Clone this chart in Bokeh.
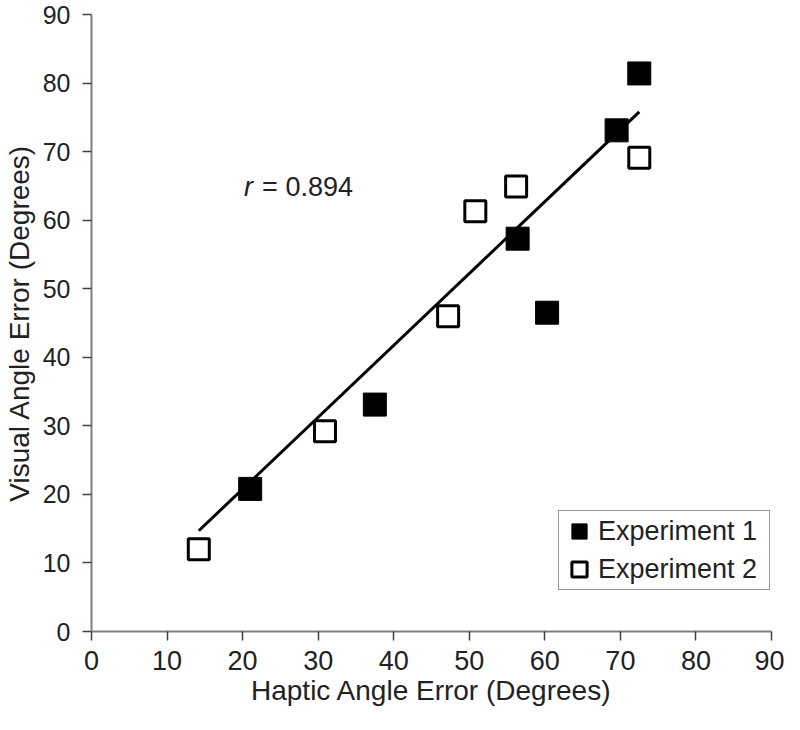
from bokeh.plotting import figure
from bokeh.models import Range1d, Legend, LegendItem, FixedTicker
from bokeh.core.properties import value
from bokeh.embed import file_html
from bokeh.resources import INLINE

# Data
exp1_x = [21.0, 37.5, 56.4, 60.3, 69.5, 72.5]
exp1_y = [20.8, 33.1, 57.3, 46.5, 73.1, 81.4]
exp2_x = [14.2, 30.9, 47.2, 50.8, 56.2, 72.5]
exp2_y = [12.0, 29.2, 46.0, 61.3, 64.9, 69.1]
fit_x = [14.2, 72.5]
fit_y = [14.7, 75.8]
ticks = [0, 10, 20, 30, 40, 50, 60, 70, 80, 90]
r_label = "0.894"

FONT = "Liberation Sans"
TXT = "#222222"

p = figure(width=784, height=714, x_range=Range1d(0, 90), y_range=Range1d(0, 90),
           output_backend="svg", toolbar_location=None,
           min_border_left=88, min_border_right=13, min_border_top=14, min_border_bottom=83)
p.outline_line_color = None
p.xgrid.visible = False
p.ygrid.visible = False
p.background_fill_color = "white"
p.border_fill_color = "white"

for ax in (p.xaxis[0], p.yaxis[0]):
    ax.ticker = FixedTicker(ticks=ticks)
    ax.axis_line_color = "#808080"
    ax.axis_line_width = 2
    ax.major_tick_line_color = "#404040"
    ax.major_tick_line_width = 1.5
    ax.major_tick_in = 0
    ax.major_tick_out = 9
    ax.minor_tick_line_color = None
    ax.major_label_text_font = FONT
    ax.major_label_text_color = TXT
    ax.axis_label_text_font = FONT
    ax.axis_label_text_font_style = "normal"
    ax.axis_label_text_color = TXT

p.xaxis.major_label_text_font_size = "27px"
p.xaxis.axis_label_text_font_size = "28px"
p.yaxis.major_label_text_font_size = "25px"
p.yaxis.axis_label_text_font_size = "28px"

p.xaxis.axis_label = "Haptic Angle Error (Degrees)"
p.yaxis.axis_label = "Visual Angle Error (Degrees)"
p.xaxis.major_label_standoff = 10
p.xaxis.axis_label_standoff = 2
p.yaxis.major_label_standoff = 12
p.yaxis.axis_label_standoff = 5

p.line(fit_x, fit_y, line_color="black", line_width=3)

r1 = p.scatter(exp1_x, exp1_y, marker="square", size=23, fill_color="black", line_color="black", line_width=1)
r2 = p.scatter(exp2_x, exp2_y, marker="square", size=21, fill_color="white", line_color="black", line_width=3)

p.text(x=[20.2], y=[64.9], text=["r"], text_font=value(FONT), text_font_size="27px",
       text_font_style="italic", text_color=TXT, text_baseline="middle", text_align="left")
p.text(x=[20.2], y=[64.9], text=["= " + r_label], text_font=value(FONT), text_font_size="27px",
       text_color=TXT, text_baseline="middle", text_align="left", x_offset=18)

legend = Legend(items=[LegendItem(label="Experiment 1", renderers=[r1]),
                       LegendItem(label="Experiment 2", renderers=[r2])],
                location=(467, 41))
legend.label_text_font = FONT
legend.label_text_font_size = "27px"
legend.label_text_color = TXT
legend.glyph_width = 38
legend.glyph_height = 38
legend.label_width = 170
legend.label_standoff = 0
legend.spacing = 0
legend.padding = 1
legend.margin = 0
legend.border_line_color = "#333333"
legend.border_line_width = 1.5
legend.background_fill_alpha = 1
p.add_layout(legend, "center")

open("out.html", "w").write(file_html(p, INLINE))
